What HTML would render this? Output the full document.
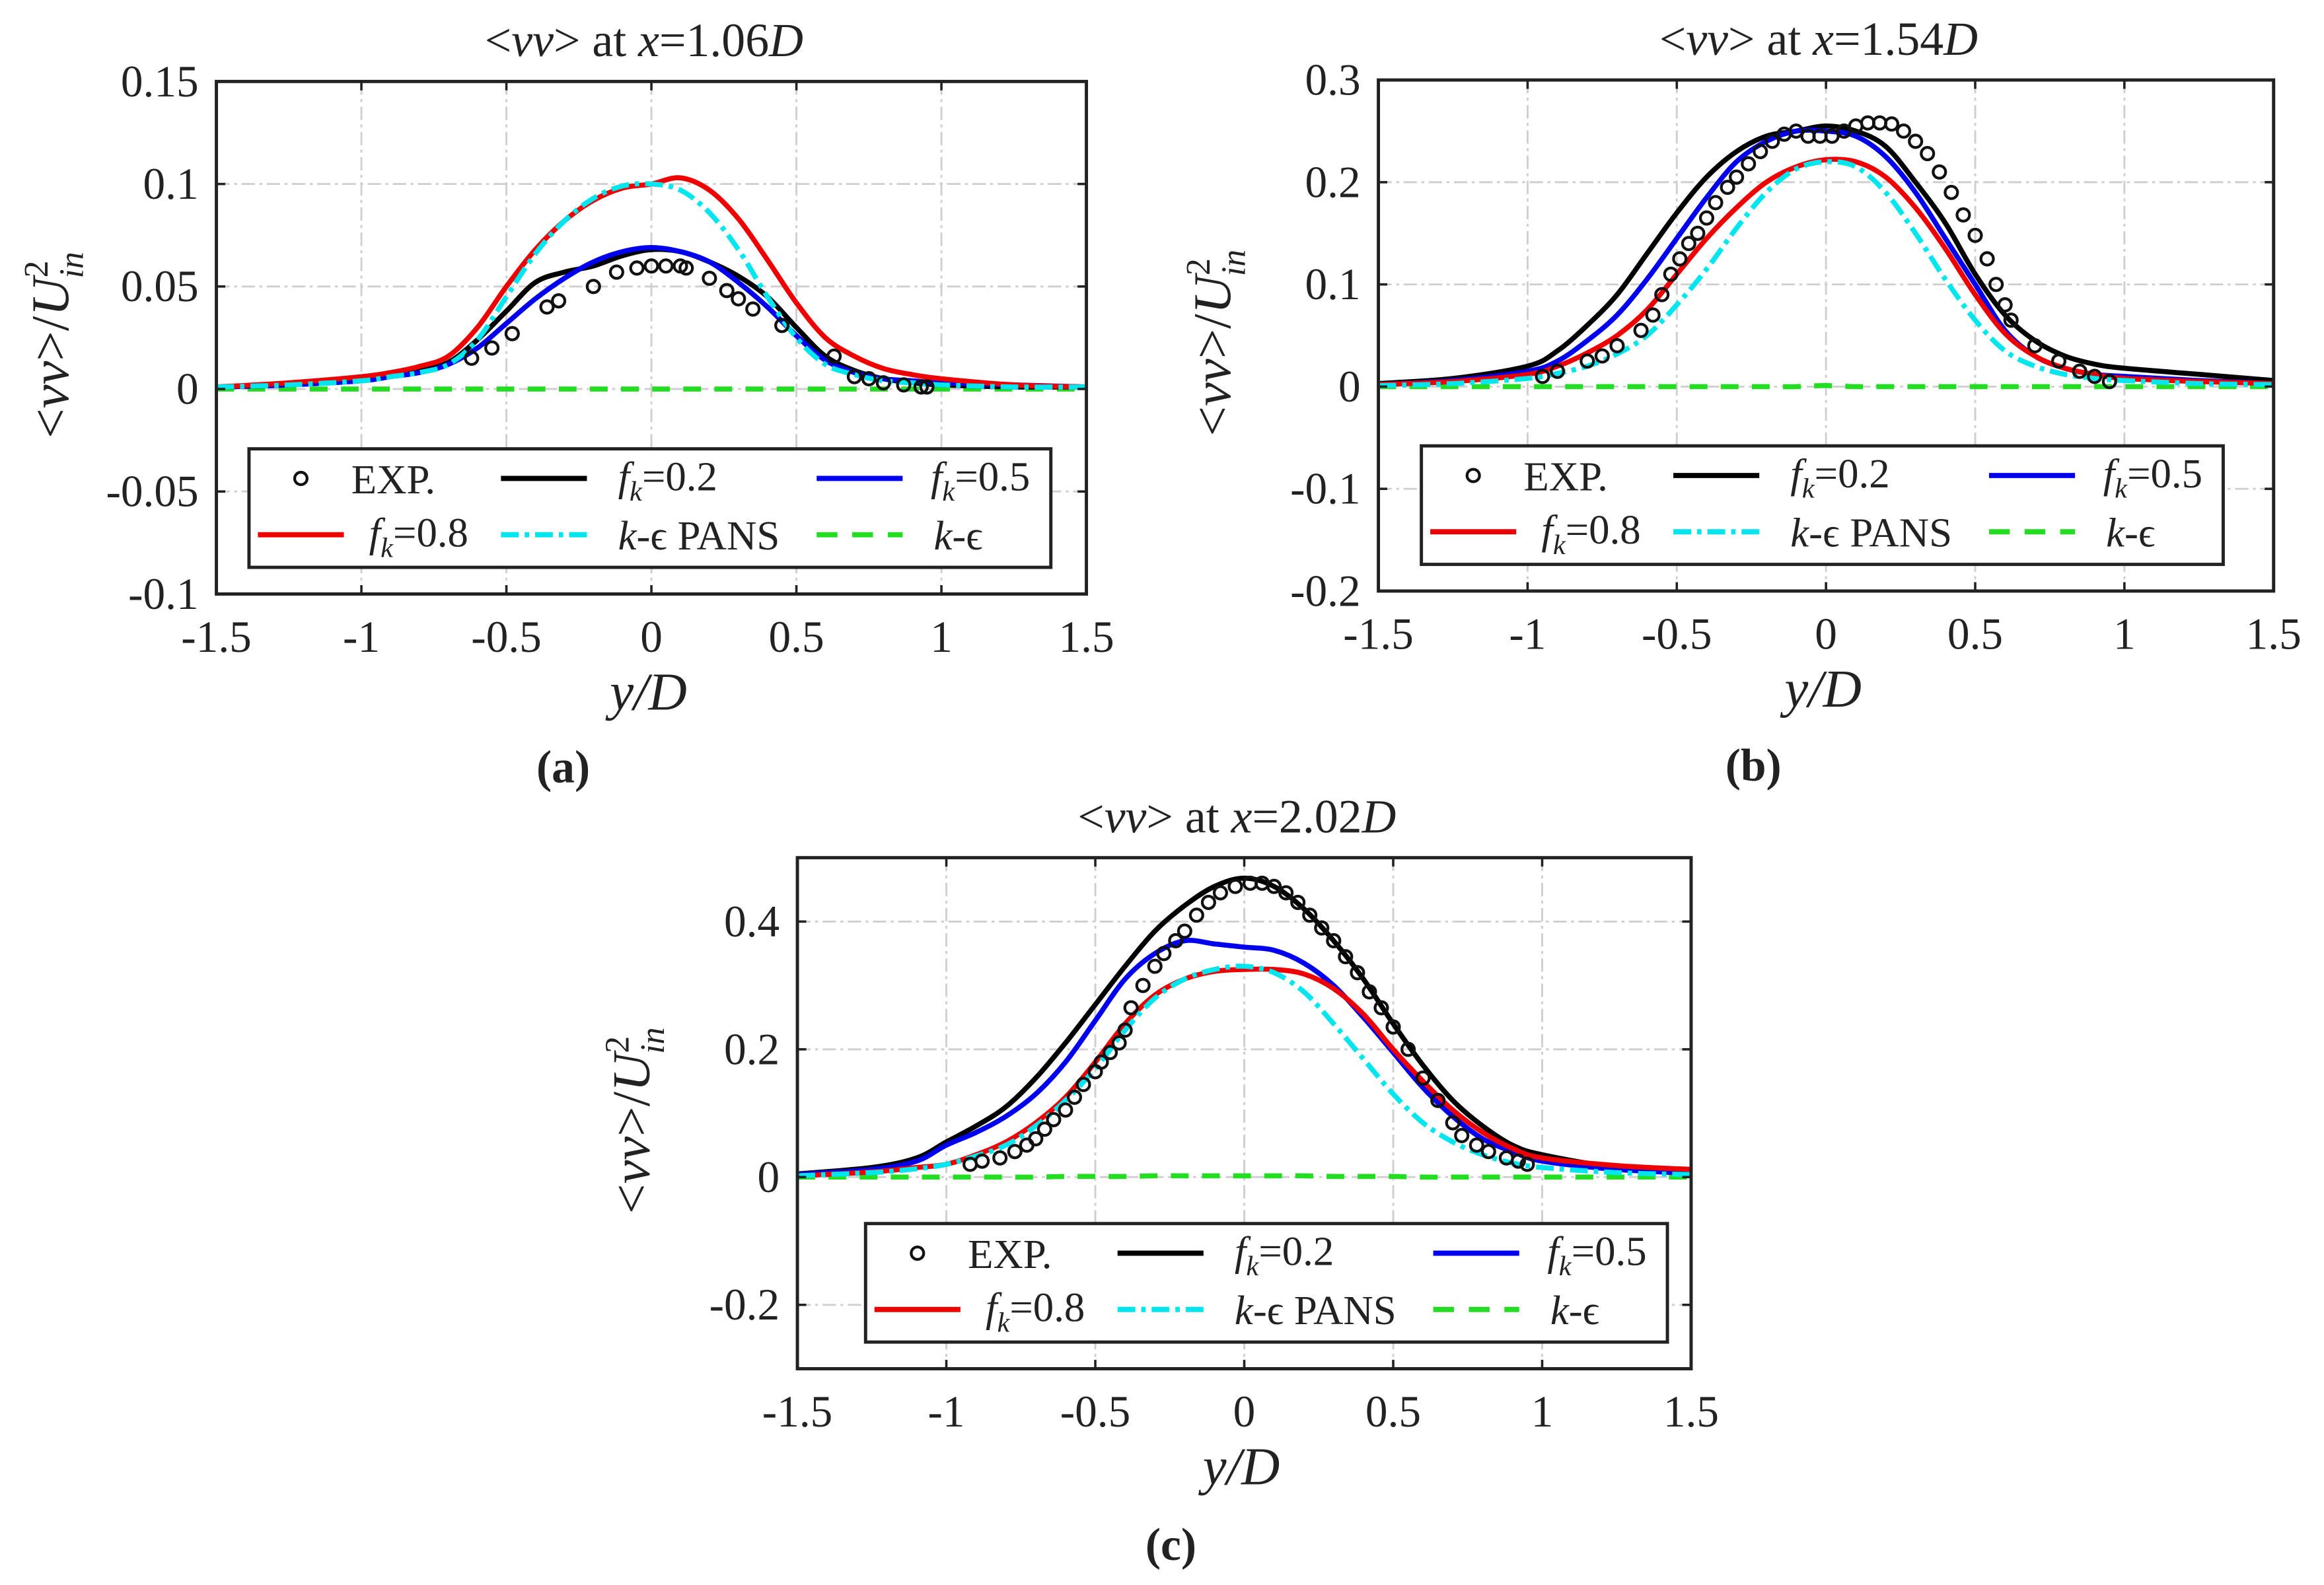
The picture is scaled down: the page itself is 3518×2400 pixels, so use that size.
<!DOCTYPE html>
<html><head><meta charset="utf-8"><style>
html,body{margin:0;padding:0;background:#fff;}
svg{display:block;}
text{font-family:"Liberation Serif",serif;fill:#222;}
</style></head><body>
<svg id="fig" width="3518" height="2400" viewBox="0 0 1568 1070" preserveAspectRatio="none" xmlns="http://www.w3.org/2000/svg"></svg>
<script>
// ---------- data ----------
const gridY = [-1.5,-1.25,-1,-0.9,-0.8,-0.7,-0.6,-0.5,-0.4,-0.3,-0.2,-0.1,0,0.1,0.2,0.3,0.4,0.5,0.6,0.7,0.8,0.9,1,1.25,1.5];
const gridYc = [-1.5,-1.25,-1.1,-1,-0.9,-0.8,-0.7,-0.6,-0.5,-0.4,-0.3,-0.2,-0.1,0,0.1,0.2,0.3,0.4,0.5,0.6,0.7,0.8,0.9,1,1.25,1.5];
const xTicks = [-1.5,-1,-0.5,0,0.5,1,1.5];
const xTickLabels = ["-1.5","-1","-0.5","0","0.5","1","1.5"];

// panel a
const aTicks = [0.15,0.1,0.05,0,-0.05,-0.1];
const aTickLabels = ["0.15","0.1","0.05","0","-0.05","-0.1"];
const aRed   = [0.001,0.003,0.006,0.008,0.011,0.016,0.03,0.05,0.068,0.082,0.092,0.098,0.1,0.103,0.097,0.083,0.063,0.042,0.025,0.016,0.01,0.007,0.005,0.002,0.001];
const aCyan  = [0.001,0.002,0.004,0.006,0.008,0.012,0.024,0.045,0.066,0.082,0.093,0.099,0.1,0.097,0.086,0.068,0.045,0.025,0.012,0.007,0.004,0.003,0.002,0.001,0.001];
const aBlack = [0.001,0.002,0.005,0.007,0.009,0.013,0.024,0.038,0.052,0.057,0.06,0.065,0.068,0.067,0.062,0.055,0.045,0.03,0.016,0.009,0.005,0.003,0.002,0.001,0.001];
const aBlue  = [0.001,0.002,0.004,0.006,0.008,0.012,0.02,0.032,0.044,0.054,0.062,0.067,0.069,0.067,0.062,0.052,0.04,0.026,0.014,0.008,0.005,0.004,0.003,0.002,0.001];
const aGreen = [0,0,0,0,0,0,0,0,0,0,0,0,0,0,0,0,0,0,0,0,0,0,0,0,0];
const aExpX = [-0.62,-0.55,-0.48,-0.36,-0.32,-0.2,-0.12,-0.05,0,0.05,0.1,0.12,0.2,0.26,0.3,0.35,0.45,0.63,0.7,0.75,0.8,0.87,0.93,0.95];
const aExpV = [0.015,0.02,0.027,0.04,0.043,0.05,0.057,0.059,0.06,0.06,0.06,0.059,0.054,0.048,0.044,0.039,0.031,0.016,0.006,0.005,0.003,0.002,0.001,0.001];

// panel b
const bTicks = [0.3,0.2,0.1,0,-0.1,-0.2];
const bTickLabels = ["0.3","0.2","0.1","0","-0.1","-0.2"];
const bBlack = [0.003,0.008,0.02,0.035,0.06,0.09,0.13,0.17,0.205,0.23,0.245,0.25,0.255,0.25,0.235,0.2,0.16,0.11,0.07,0.045,0.03,0.022,0.018,0.012,0.006];
const bBlue  = [0.002,0.006,0.015,0.025,0.045,0.07,0.105,0.145,0.185,0.22,0.24,0.25,0.25,0.245,0.225,0.19,0.145,0.1,0.055,0.03,0.018,0.012,0.01,0.006,0.003];
const bRed   = [0.002,0.005,0.012,0.02,0.033,0.05,0.075,0.11,0.145,0.175,0.2,0.215,0.222,0.22,0.205,0.175,0.135,0.09,0.052,0.03,0.018,0.012,0.008,0.005,0.003];
const bCyan  = [0.001,0.003,0.008,0.013,0.02,0.032,0.05,0.08,0.115,0.155,0.19,0.213,0.22,0.215,0.19,0.15,0.105,0.065,0.035,0.02,0.012,0.008,0.006,0.003,0.002];
const bGreen = [0,0,0,0,0,0,0,0,0,0,0,0,0.001,0,0,0,0,0,0,0,0,0,0,0,0];
const bExpX = [-0.95,-0.9,-0.8,-0.75,-0.7,-0.62,-0.58,-0.55,-0.52,-0.49,-0.46,-0.43,-0.4,-0.37,-0.33,-0.3,-0.26,-0.22,-0.18,-0.14,-0.1,-0.06,-0.02,0.02,0.06,0.1,0.14,0.18,0.22,0.26,0.3,0.34,0.38,0.42,0.46,0.5,0.54,0.57,0.6,0.62,0.7,0.78,0.85,0.9,0.95];
const bExpV = [0.01,0.015,0.025,0.03,0.04,0.055,0.07,0.09,0.11,0.125,0.14,0.15,0.165,0.18,0.195,0.205,0.218,0.23,0.24,0.247,0.25,0.245,0.245,0.245,0.25,0.255,0.258,0.258,0.257,0.25,0.24,0.228,0.21,0.19,0.168,0.148,0.125,0.1,0.08,0.065,0.04,0.025,0.015,0.01,0.005];

// panel c
const cTicks = [0.4,0.2,0,-0.2];
const cTickLabels = ["0.4","0.2","0","-0.2"];
const cBlack = [0.005,0.015,0.03,0.055,0.08,0.11,0.155,0.21,0.27,0.33,0.385,0.425,0.455,0.468,0.455,0.42,0.37,0.31,0.24,0.175,0.12,0.08,0.05,0.035,0.015,0.008];
const cBlue  = [0.004,0.012,0.025,0.05,0.07,0.095,0.13,0.18,0.245,0.31,0.35,0.37,0.365,0.36,0.355,0.335,0.3,0.25,0.195,0.14,0.095,0.06,0.04,0.025,0.012,0.006];
const cRed   = [0.002,0.008,0.015,0.02,0.035,0.055,0.085,0.125,0.18,0.24,0.285,0.31,0.322,0.325,0.325,0.318,0.295,0.255,0.2,0.15,0.105,0.07,0.045,0.03,0.018,0.012];
const cCyan  = [0.002,0.007,0.013,0.02,0.033,0.05,0.08,0.12,0.17,0.23,0.28,0.31,0.325,0.33,0.32,0.29,0.24,0.185,0.13,0.085,0.055,0.035,0.022,0.015,0.007,0.004];
const cGreen = [0,0,0,0,0,0,0,0.001,0.001,0.001,0.002,0.002,0.002,0.002,0.002,0.002,0.001,0.001,0.001,0,0,0,0,0,0,0];
const cExpX = [-0.92,-0.88,-0.82,-0.77,-0.73,-0.7,-0.67,-0.64,-0.6,-0.57,-0.54,-0.5,-0.48,-0.45,-0.42,-0.4,-0.38,-0.34,-0.3,-0.27,-0.23,-0.2,-0.16,-0.12,-0.08,-0.03,0.02,0.06,0.1,0.14,0.18,0.22,0.26,0.3,0.34,0.38,0.42,0.46,0.5,0.55,0.6,0.65,0.7,0.73,0.78,0.82,0.88,0.92,0.95];
const cExpV = [0.02,0.025,0.03,0.04,0.05,0.06,0.075,0.09,0.105,0.125,0.145,0.165,0.18,0.195,0.21,0.23,0.265,0.3,0.33,0.35,0.37,0.385,0.41,0.43,0.445,0.455,0.46,0.46,0.455,0.445,0.43,0.41,0.39,0.37,0.345,0.32,0.29,0.265,0.235,0.2,0.155,0.12,0.085,0.065,0.05,0.04,0.03,0.025,0.02];

// ---------- drawing ----------
const NS = "http://www.w3.org/2000/svg";
const svg = document.getElementById('fig');
function mk(tag, attrs, parent){ const e=document.createElementNS(NS,tag); for(const k in attrs) e.setAttribute(k,attrs[k]); (parent||svg).appendChild(e); return e; }
function txt(s, x, y, size, anchor, parent, extra){ const t=mk('text',Object.assign({x:x,y:y,'font-size':size,'text-anchor':anchor||'middle'},extra||{}),parent); t.textContent=s; return t; }
function smooth(pts){
  let d="M"+pts[0][0].toFixed(2)+","+pts[0][1].toFixed(2);
  for(let i=0;i<pts.length-1;i++){
    const p0=pts[Math.max(0,i-1)],p1=pts[i],p2=pts[i+1],p3=pts[Math.min(pts.length-1,i+2)];
    const c1=[p1[0]+(p2[0]-p0[0])/6,p1[1]+(p2[1]-p0[1])/6];
    const c2=[p2[0]-(p3[0]-p1[0])/6,p2[1]-(p3[1]-p1[1])/6];
    d+="C"+c1[0].toFixed(2)+","+c1[1].toFixed(2)+" "+c2[0].toFixed(2)+","+c2[1].toFixed(2)+" "+p2[0].toFixed(2)+","+p2[1].toFixed(2);
  }
  return d;
}
const LF=28;
function fkLabel(g, x, y, val){
  const t=mk('text',{x:x,y:y,'font-size':LF,'text-anchor':'start'},g);
  const a=document.createElementNS(NS,'tspan'); a.setAttribute('font-style','italic'); a.textContent='f'; t.appendChild(a);
  const b=document.createElementNS(NS,'tspan'); b.setAttribute('font-style','italic'); b.setAttribute('font-size','19'); b.setAttribute('dy','7'); b.textContent='k'; t.appendChild(b);
  const c=document.createElementNS(NS,'tspan'); c.setAttribute('dy','-7'); c.textContent='='+val; t.appendChild(c);
}

function panel(cfg){
  const g=mk('g',{});
  
  
  const L=cfg.L,R=cfg.R,T=cfg.T,B=cfg.B;
  const sx=v=>L+(v+1.5)/3*(R-L);
  const sy=v=>B-(v-cfg.ymin)/(cfg.ymax-cfg.ymin)*(B-T);
  const grid=mk('g',{},g);
  
  
  xTicks.forEach(v=>{ if(v>-1.5&&v<1.5) mk('line',{x1:sx(v),x2:sx(v),y1:T,y2:B,stroke:'#cfcfcf','stroke-width':1.3,'stroke-dasharray':'9 3 2 3'},grid); });
  cfg.ticks.forEach(v=>{ const y=sy(v); if(y>T+1&&y<B-1) mk('line',{x1:L,x2:R,y1:y,y2:y,stroke:'#cfcfcf','stroke-width':1.3,'stroke-dasharray':'9 3 2 3'},grid); });
  const clip='clip-'+cfg.name;
  const cp=mk('clipPath',{id:clip},g); mk('rect',{x:L,y:T,width:R-L,height:B-T},cp);
  const sg=mk('g',{'clip-path':'url(#'+clip+')'},g);
  cfg.series.forEach(s=>{
    const pts=s.v.map((v,i)=>[sx(cfg.xs[i]),sy(v)]);
    const p=mk('path',{d:smooth(pts),fill:'none',stroke:s.c,'stroke-width':s.w||3.4,'stroke-dasharray':s.dash||'none','stroke-linejoin':'round'},sg);
    
    
  });
  const eg=mk('g',{},sg);
  
  
  cfg.expX.forEach((x,i)=>{
    const c=mk('circle',{cx:sx(x),cy:sy(cfg.expV[i]),r:4.2,fill:'none',stroke:'#111','stroke-width':1.9},eg);
    
    
  });
  mk('rect',{x:L,y:T,width:R-L,height:B-T,fill:'none',stroke:'#222','stroke-width':2.2},g);
  xTicks.forEach((v,i)=>{
    mk('line',{x1:sx(v),x2:sx(v),y1:B,y2:B-6,stroke:'#222','stroke-width':1.6},g);
    mk('line',{x1:sx(v),x2:sx(v),y1:T,y2:T+6,stroke:'#222','stroke-width':1.6},g);
    const t=txt(xTickLabels[i],sx(v),B+39,30,'middle',g);
    
    
  });
  cfg.ticks.forEach((v,i)=>{
    mk('line',{x1:L,x2:L+6,y1:sy(v),y2:sy(v),stroke:'#222','stroke-width':1.6},g);
    mk('line',{x1:R,x2:R-6,y1:sy(v),y2:sy(v),stroke:'#222','stroke-width':1.6},g);
    const t=txt(cfg.tickLabels[i],L-12,sy(v)+10,30,'end',g);
    
    
  });
  const tt=mk('text',{x:(L+R)/2-5,y:T-17,'font-size':32,'text-anchor':'middle'},g);
  
  
  tt.setAttribute('xml:space','preserve');
  tt.innerHTML='&lt;<tspan font-style="italic">vv</tspan>&gt;  at  <tspan font-style="italic">x</tspan>='+cfg.xpos+'<tspan font-style="italic">D</tspan>';
  const xl=mk('text',{x:(L+R)/2-2,y:B+78,'font-size':36,'text-anchor':'middle','font-style':'italic'},g);
  xl.textContent='y/D';
  
  
  const ylx=L-100, yly=(T+B)/2+5;
  const yl=mk('text',{x:0,y:0,'font-size':36,'text-anchor':'middle',transform:'translate('+ylx+','+yly+') rotate(-90)'},g);
  yl.innerHTML='&lt;<tspan font-style="italic">vv</tspan>&gt;/<tspan font-style="italic">U</tspan><tspan font-size="23" dy="-14">2</tspan><tspan font-size="23" font-style="italic" dy="24" dx="-12">in</tspan>';
  
  
  const sl=txt(cfg.sub,cfg.subX,cfg.subY,31,'middle',g,{'font-weight':'bold'});
  
  
  const lx=cfg.lx, ly=cfg.ly;
  const lg=mk('g',{},g);
  
  
  mk('rect',{x:lx,y:ly,width:541,height:80,fill:'#fff',stroke:'#222','stroke-width':2.2},lg);
  const r1=ly+20, r2=ly+58;
  mk('circle',{cx:lx+35,cy:r1,r:4.2,fill:'none',stroke:'#111','stroke-width':1.9},lg);
  txt('EXP.',lx+69,r1+10,LF,'start',lg);
  mk('line',{x1:lx+170,x2:lx+228,y1:r1,y2:r1,stroke:'#000','stroke-width':3.5},lg);
  fkLabel(lg,lx+249,r1+8,'0.2');
  mk('line',{x1:lx+383,x2:lx+441,y1:r1,y2:r1,stroke:'#0000ee','stroke-width':3.5},lg);
  fkLabel(lg,lx+460,r1+8,'0.5');
  mk('line',{x1:lx+6,x2:lx+64,y1:r2,y2:r2,stroke:'#ee0000','stroke-width':3.5},lg);
  fkLabel(lg,lx+81,r2+8,'0.8');
  mk('line',{x1:lx+170,x2:lx+228,y1:r2,y2:r2,stroke:'#00e5ee','stroke-width':3.5,'stroke-dasharray':'12 4 3 4'},lg);
  const kp=mk('text',{x:lx+249,y:r2+10,'font-size':LF,'text-anchor':'start'},lg);
  kp.setAttribute('xml:space','preserve');
  kp.innerHTML='<tspan font-style="italic">k</tspan>-ϵ  PANS';
  mk('line',{x1:lx+383,x2:lx+441,y1:r2,y2:r2,stroke:'#22dd22','stroke-width':3.5,'stroke-dasharray':'14 10'},lg);
  const ke=mk('text',{x:lx+462,y:r2+10,'font-size':LF,'text-anchor':'start'},lg);
  ke.innerHTML='<tspan font-style="italic">k</tspan>-ϵ';
}

const dashC='12 4 3 4', dashG='12 9';
panel({name:'panel-a',L:146,R:733,T:55,B:401,ymin:-0.1,ymax:0.15,ticks:aTicks,tickLabels:aTickLabels,xs:gridY,
  series:[{n:'k-epsilon-line',v:aGreen,c:'#22dd22',dash:dashG},{n:'fk-0.2-line',v:aBlack,c:'#000'},{n:'fk-0.5-line',v:aBlue,c:'#0000ee'},{n:'fk-0.8-line',v:aRed,c:'#ee0000'},{n:'k-epsilon-pans-line',v:aCyan,c:'#00e5ee',dash:dashC}],
  expX:aExpX,expV:aExpV,xpos:'1.06',sub:'(a)',subX:380,subY:528,lx:168,ly:303});
panel({name:'panel-b',L:930,R:1534,T:54,B:399,ymin:-0.2,ymax:0.3,ticks:bTicks,tickLabels:bTickLabels,xs:gridY,
  series:[{n:'k-epsilon-line',v:bGreen,c:'#22dd22',dash:dashG},{n:'fk-0.2-line',v:bBlack,c:'#000'},{n:'fk-0.5-line',v:bBlue,c:'#0000ee'},{n:'fk-0.8-line',v:bRed,c:'#ee0000'},{n:'k-epsilon-pans-line',v:bCyan,c:'#00e5ee',dash:dashC}],
  expX:bExpX,expV:bExpV,xpos:'1.54',sub:'(b)',subX:1183,subY:527,lx:959,ly:301});
panel({name:'panel-c',L:538,R:1141,T:579,B:924,ymin:-0.3,ymax:0.5,ticks:cTicks,tickLabels:cTickLabels,xs:gridYc,
  series:[{n:'k-epsilon-line',v:cGreen,c:'#22dd22',dash:dashG},{n:'fk-0.2-line',v:cBlack,c:'#000'},{n:'fk-0.5-line',v:cBlue,c:'#0000ee'},{n:'fk-0.8-line',v:cRed,c:'#ee0000'},{n:'k-epsilon-pans-line',v:cCyan,c:'#00e5ee',dash:dashC}],
  expX:cExpX,expV:cExpV,xpos:'2.02',sub:'(c)',subX:790,subY:1053,lx:584,ly:826});
</script>
</body></html>
